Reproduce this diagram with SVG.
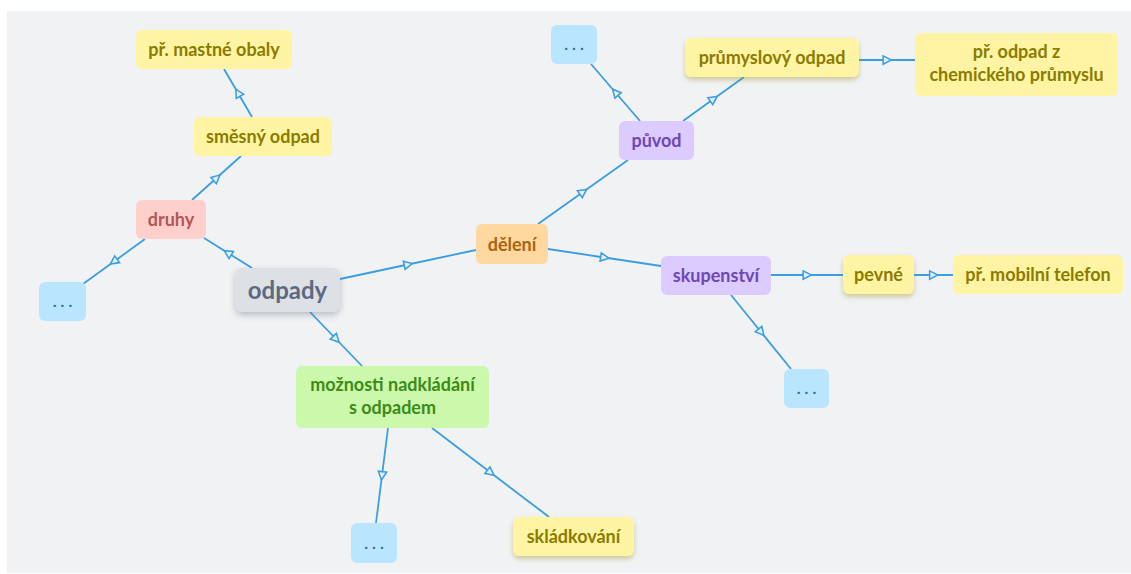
<svg xmlns="http://www.w3.org/2000/svg" width="1131" height="574" viewBox="0 0 1131 574">
<style>
text{font-family:Lato,"Noto Sans","DejaVu Sans",sans-serif;font-weight:700;font-size:18px;text-anchor:middle}
.c polyline{fill:none;stroke:#3a9ee0;stroke-width:1.8;marker-mid:url(#arr)}
.y rect{fill:#fff4a3}.y text{fill:#8a7c00}
.r rect{fill:#ffcfcc}.r text{fill:#b25757}
.b rect{fill:#b9e5ff}.b text{fill:#2a6fa0;letter-spacing:4px;font-size:16px}
.g rect{fill:#dde1e6}.g text{fill:#5b6a82;font-size:24px}
.o rect{fill:#ffd8a0}.o text{fill:#a8650f}
.p rect{fill:#dccbff}.p text{fill:#6d48b5}
.gr rect{fill:#ccf8ab}.gr text{fill:#3b8c17}
</style>
<defs>
<marker id="arr" viewBox="0 0 10 10" refX="5" refY="5" markerWidth="11" markerHeight="11" markerUnits="userSpaceOnUse" orient="auto">
<path d="M1.5,1.2 L9,5 L1.5,8.8 Z" fill="#e4f1fa" stroke="#3a9ee0" stroke-width="1.4"/>
</marker>
<filter id="shy" x="-20%" y="-30%" width="140%" height="170%"><feDropShadow dx="0" dy="3" stdDeviation="2.5" flood-color="#8a7c00" flood-opacity="0.35"/></filter>
<filter id="shg" x="-20%" y="-30%" width="140%" height="170%"><feDropShadow dx="0" dy="3" stdDeviation="3" flood-color="#556070" flood-opacity="0.35"/></filter>
</defs>
<rect x="0" y="0" width="1131" height="574" fill="#ffffff"/>
<rect x="7" y="11" width="1124" height="562" fill="#f1f2f4"/>
<g id="connectors" class="c">
<polyline points="252,268 228,253 204,238"/>
<polyline points="145,239 114,261.5 83,284"/>
<polyline points="192,200 216.5,178 241,156"/>
<polyline points="252,117 238,93 224,69"/>
<polyline points="340,279 408,264.5 476,250"/>
<polyline points="538,224 583,192 628,160"/>
<polyline points="640,121 615.5,92.5 591,64"/>
<polyline points="683,121 713.5,99 744,77"/>
<polyline points="859,60 887,60 915,60"/>
<polyline points="548,249 604.5,257.5 661,266"/>
<polyline points="771,275 807,275 843,275"/>
<polyline points="914,275 933.5,275 953,275"/>
<polyline points="731,295 761,332 791,369"/>
<polyline points="310,312 336,339 362,366"/>
<polyline points="388,428 382,475.5 376,523"/>
<polyline points="432,428 490.5,472.5 549,517"/>
</g>
<g id="n-mastne" class="y"><rect x="136" y="30" width="156" height="39" rx="6"/><text x="214" y="56">př. mastné obaly</text></g>
<g id="n-smesny" class="y"><rect x="194" y="117" width="138" height="39" rx="6"/><text x="263" y="143">směsný odpad</text></g>
<g id="n-druhy" class="r"><rect x="136" y="200" width="70" height="39" rx="6"/><text x="171" y="226">druhy</text></g>
<g id="n-dots1" class="b"><rect x="39" y="282" width="47" height="39" rx="6"/><text x="64.5" y="307">...</text></g>
<g id="n-odpady" class="g"><rect x="235" y="268" width="105" height="44" rx="7" filter="url(#shg)"/><text x="287.5" y="298.5">odpady</text></g>
<g id="n-deleni" class="o"><rect x="476" y="224" width="72" height="40" rx="6"/><text x="512" y="250.5">dělení</text></g>
<g id="n-dots2" class="b"><rect x="551" y="25" width="46" height="39" rx="6"/><text x="576" y="50">...</text></g>
<g id="n-prumyslovy" class="y"><rect x="685" y="38" width="174" height="39" rx="6" filter="url(#shy)"/><text x="772" y="64">průmyslový odpad</text></g>
<g id="n-chem" class="y"><rect x="915" y="33" width="203" height="63" rx="6"/><text x="1016.5" y="58">př. odpad z</text><text x="1016.5" y="81">chemického průmyslu</text></g>
<g id="n-puvod" class="p"><rect x="619" y="121" width="75" height="39" rx="6"/><text x="656.5" y="147">původ</text></g>
<g id="n-skup" class="p"><rect x="661" y="256" width="110" height="39" rx="6"/><text x="716" y="282">skupenství</text></g>
<g id="n-pevne" class="y"><rect x="843" y="255" width="71" height="39" rx="6" filter="url(#shy)"/><text x="878.5" y="281">pevné</text></g>
<g id="n-mobil" class="y"><rect x="953" y="255" width="170" height="39" rx="6"/><text x="1038" y="281">př. mobilní telefon</text></g>
<g id="n-dots3" class="b"><rect x="784" y="369" width="45" height="39" rx="6"/><text x="808.5" y="394">...</text></g>
<g id="n-moznosti" class="gr"><rect x="296" y="366" width="193" height="62" rx="6"/><text x="392.5" y="391">možnosti nadkládání</text><text x="392.5" y="414">s odpadem</text></g>
<g id="n-dots4" class="b"><rect x="351" y="523" width="46" height="40" rx="6"/><text x="376" y="548.5">...</text></g>
<g id="n-sklad" class="y"><rect x="513" y="517" width="121" height="39" rx="6" filter="url(#shy)"/><text x="573.5" y="543">skládkování</text></g>
</svg>
